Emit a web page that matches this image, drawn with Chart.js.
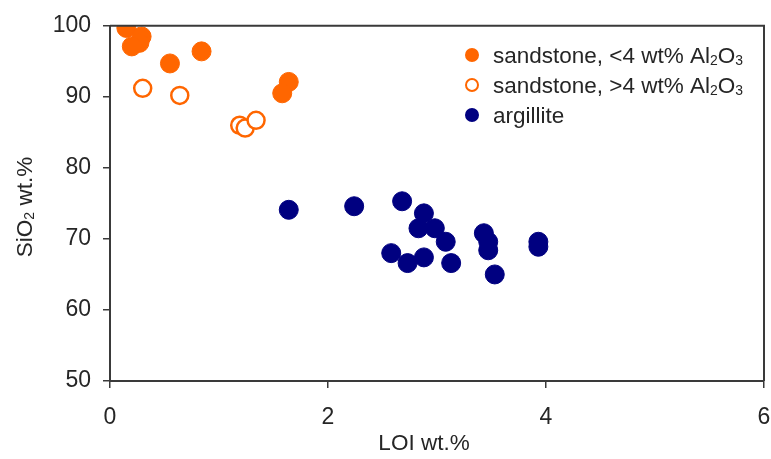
<!DOCTYPE html>
<html>
<head>
<meta charset="utf-8">
<script src="https://cdn.jsdelivr.net/npm/chart.js@4.4.1/dist/chart.umd.min.js"></script>
<style>
  html, body { margin: 0; padding: 0; background: #fff; }
  #wrap { width: 771px; height: 459px; }
</style>
</head>
<body>
<div id="wrap"><canvas id="loiChart" width="771" height="459"></canvas></div>
<script>
// sandstone, <4 wt% Al2O3
const sandLowLoi = [0.15, 0.29, 0.27, 0.20, 0.55, 0.84, 1.64, 1.58];
const sandLowSi = [99.7, 98.5, 97.6, 97.1, 94.7, 96.4, 92.1, 90.5];

// sandstone, >4 wt% Al2O3
const sandHighLoi = [0.30, 0.64, 1.19, 1.24, 1.34];
const sandHighSi = [91.2, 90.2, 86.0, 85.6, 86.7];

// argillite
const argLoi = [1.64, 2.24, 2.68, 2.88, 2.83, 2.98, 3.08, 2.58, 2.73, 2.88, 3.13, 3.43, 3.47, 3.47, 3.53, 3.93, 3.93];
const argSi = [74.1, 74.6, 75.3, 73.6, 71.5, 71.5, 69.6, 68.0, 66.6, 67.4, 66.6, 70.8, 69.6, 68.4, 65.0, 69.6, 68.9];

const xTicks = [0, 2, 4, 6];
const yTicks = [50, 60, 70, 80, 90, 100];

const ORANGE = '#ff6600';
const NAVY = '#000080';
const INK = '#262626';
const AXIS = '#3a3a3a';
const FONT = '"Liberation Sans", Arial, sans-serif';

const toPoints = (xs, ys) => xs.map((x, i) => ({ x, y: ys[i] }));

// text with subscripted digit runs, e.g. [['SiO'], ['2', true], [' wt.%']]
function drawRich(ctx, parts, x, y, size, align) {
    const sub = size * 0.62;
    const widths = parts.map(([t, s]) => {
        ctx.font = (s ? sub : size) + 'px ' + FONT;
        return ctx.measureText(t).width;
    });
    const total = widths.reduce((a, b) => a + b, 0);
    let cx = align === 'center' ? x - total / 2 : x;
    ctx.textBaseline = 'alphabetic';
    ctx.textAlign = 'left';
    parts.forEach(([t, s], i) => {
        ctx.font = (s ? sub : size) + 'px ' + FONT;
        ctx.fillText(t, cx, y + (s ? size * 0.08 : 0));
        cx += widths[i];
    });
}

const legendRows = [
    { fill: ORANGE, stroke: ORANGE, parts: [['sandstone, <4 wt% Al'], ['2', true], ['O'], ['3', true]] },
    { fill: '#fff', stroke: ORANGE, parts: [['sandstone, >4 wt% Al'], ['2', true], ['O'], ['3', true]] },
    { fill: NAVY, stroke: NAVY, parts: [['argillite']] }
];

const decor = {
    id: 'decor',
    afterDraw(chart) {
        const { ctx, chartArea: a } = chart;
        ctx.save();
        // top and right frame lines
        ctx.strokeStyle = AXIS;
        ctx.lineWidth = 2;
        ctx.beginPath();
        ctx.moveTo(a.left, a.top);
        ctx.lineTo(a.right, a.top);
        ctx.lineTo(a.right, a.bottom);
        ctx.stroke();

        // legend
        legendRows.forEach((row, i) => {
            const y = 55 + i * 30;
            ctx.beginPath();
            ctx.arc(472, y, 6, 0, Math.PI * 2);
            ctx.fillStyle = row.fill;
            ctx.fill();
            ctx.lineWidth = 2;
            ctx.strokeStyle = row.stroke;
            ctx.stroke();
            ctx.fillStyle = INK;
            drawRich(ctx, row.parts, 493, y + 8, 22.5, 'left');
        });

        // axis titles
        ctx.fillStyle = INK;
        drawRich(ctx, [['LOI wt.%']], 424, 450, 22.5, 'center');
        ctx.translate(32, 207);
        ctx.rotate(-Math.PI / 2);
        drawRich(ctx, [['SiO'], ['2', true], [' wt.%']], 0, 0, 22.5, 'center');
        ctx.restore();
    }
};

new Chart(document.getElementById('loiChart'), {
    type: 'scatter',
    data: {
        datasets: [
            {
                label: 'sandstone, <4 wt% Al2O3',
                data: toPoints(sandLowLoi, sandLowSi),
                backgroundColor: ORANGE,
                borderColor: ORANGE,
                borderWidth: 1,
                pointRadius: 9.5,
                pointHoverRadius: 9.5
            },
            {
                label: 'sandstone, >4 wt% Al2O3',
                data: toPoints(sandHighLoi, sandHighSi),
                backgroundColor: '#fff',
                borderColor: ORANGE,
                borderWidth: 2.5,
                pointRadius: 8.5,
                pointHoverRadius: 8.5
            },
            {
                label: 'argillite',
                data: toPoints(argLoi, argSi),
                backgroundColor: NAVY,
                borderColor: NAVY,
                borderWidth: 1,
                pointRadius: 9.5,
                pointHoverRadius: 9.5
            }
        ]
    },
    options: {
        responsive: false,
        animation: false,
        layout: { autoPadding: false, padding: { top: 22, right: 7, left: 0, bottom: 0 } },
        plugins: {
            legend: { display: false },
            tooltip: { enabled: false }
        },
        scales: {
            x: {
                type: 'linear',
                min: 0,
                max: 6,
                afterBuildTicks: (s) => { s.ticks = xTicks.map(v => ({ value: v })); },
                afterFit: (s) => { s.height = 78; s.paddingLeft = 0; s.paddingRight = 0; },
                ticks: { color: INK, font: { family: FONT, size: 23 }, padding: 16 },
                grid: { drawOnChartArea: false, tickLength: 7, color: AXIS, lineWidth: 1.5 },
                border: { color: AXIS, width: 2 }
            },
            y: {
                type: 'linear',
                min: 50,
                max: 100,
                afterBuildTicks: (s) => { s.ticks = yTicks.map(v => ({ value: v })); },
                afterFit: (s) => { s.width = 110; },
                ticks: { color: INK, font: { family: FONT, size: 23 }, padding: 12 },
                grid: { drawOnChartArea: false, tickLength: 7, color: AXIS, lineWidth: 1.5 },
                border: { color: AXIS, width: 2 }
            }
        }
    },
    plugins: [decor]
});
</script>
</body>
</html>
